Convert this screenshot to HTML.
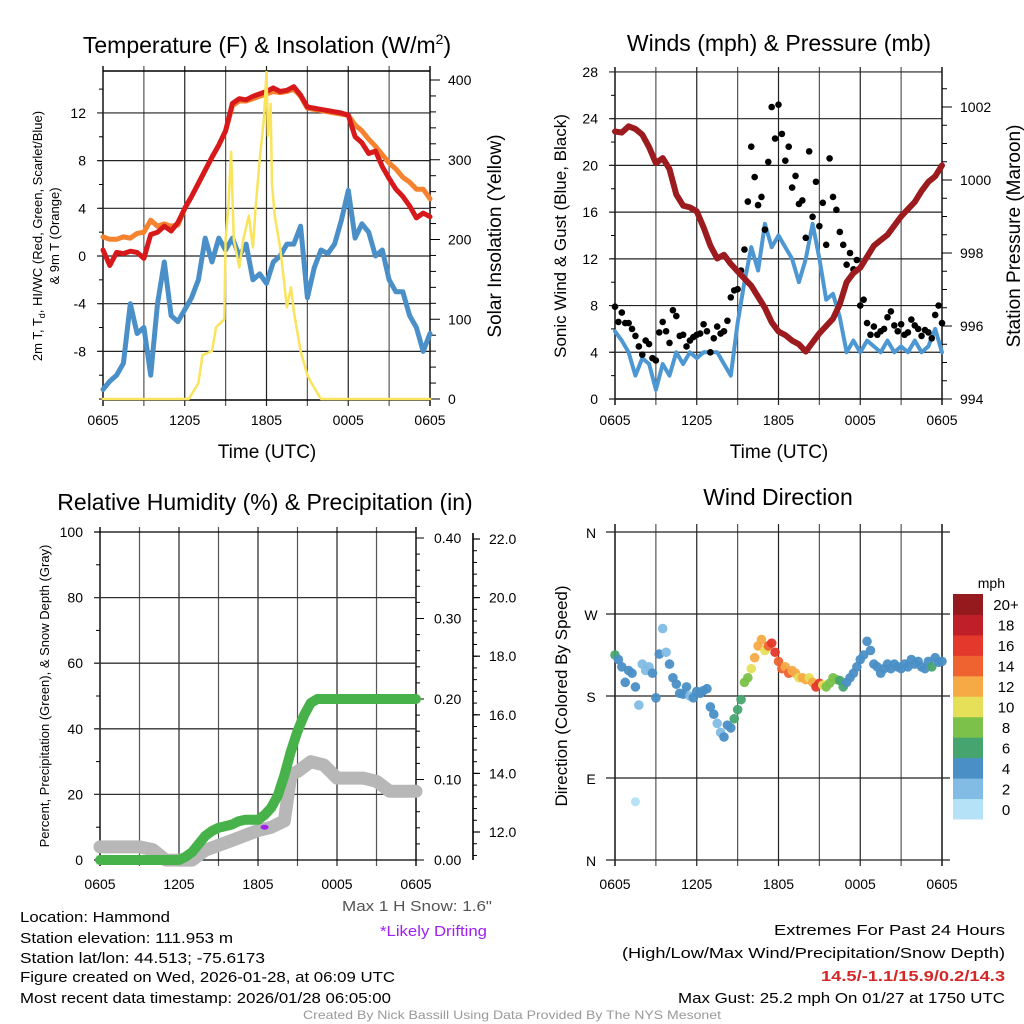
<!DOCTYPE html>
<html><head><meta charset="utf-8"><style>
html,body{margin:0;padding:0;background:#fff;}
svg{display:block;font-family:"Liberation Sans",sans-serif;}
</style></head><body>
<svg id="root" width="1024" height="1024" viewBox="0 0 1024 1024" xmlns="http://www.w3.org/2000/svg">
<g id="p1"></g>
<g id="p2"></g>
<g id="p3"></g>
<g id="p4"></g>
<g id="txt" font-size="15" fill="#000">
<text x="267" y="53" font-size="23" text-anchor="middle">Temperature (F) &amp; Insolation (W/m<tspan font-size="14" dy="-9">2</tspan><tspan dy="9">)</tspan></text>
<text x="779" y="51" font-size="23" text-anchor="middle">Winds (mph) &amp; Pressure (mb)</text>
<text x="265" y="510" font-size="23" text-anchor="middle">Relative Humidity (%) &amp; Precipitation (in)</text>
<text x="778" y="505" font-size="23" text-anchor="middle">Wind Direction</text>
<text x="267" y="458" font-size="19" text-anchor="middle">Time (UTC)</text>
<text x="779" y="458" font-size="19" text-anchor="middle">Time (UTC)</text>
<text transform="translate(42,236) rotate(-90)" font-size="13" text-anchor="middle">2m T, T<tspan font-size="9" dy="3">d</tspan><tspan dy="-3">, HI/WC (Red, Green, Scarlet/Blue)</tspan></text>
<text transform="translate(59,236) rotate(-90)" font-size="13" text-anchor="middle">&amp; 9m T (Orange)</text>
<text transform="translate(501,236) rotate(-90)" font-size="19" text-anchor="middle">Solar Insolation (Yellow)</text>
<text transform="translate(566,236) rotate(-90)" font-size="17" text-anchor="middle">Sonic Wind &amp; Gust (Blue, Black)</text>
<text transform="translate(1020,236) rotate(-90)" font-size="19" text-anchor="middle">Station Pressure (Maroon)</text>
<text transform="translate(49,696) rotate(-90)" font-size="13" text-anchor="middle">Percent, Precipitation (Green), &amp; Snow Depth (Gray)</text>
<text transform="translate(567,696) rotate(-90)" font-size="17" text-anchor="middle">Direction (Colored By Speed)</text>
<text x="1005" y="588" font-size="14" text-anchor="end">mph</text>
<text x="492" y="911" fill="#555" text-anchor="end" textLength="150" lengthAdjust="spacingAndGlyphs">Max 1 H Snow: 1.6"</text>
<text x="487" y="936" fill="#a020f0" text-anchor="end" textLength="107" lengthAdjust="spacingAndGlyphs">*Likely Drifting</text>
<text x="20" y="922" textLength="150" lengthAdjust="spacingAndGlyphs">Location: Hammond</text>
<text x="20" y="943" textLength="213" lengthAdjust="spacingAndGlyphs">Station elevation: 111.953 m</text>
<text x="20" y="963" textLength="245" lengthAdjust="spacingAndGlyphs">Station lat/lon: 44.513; -75.6173</text>
<text x="20" y="982" textLength="375" lengthAdjust="spacingAndGlyphs">Figure created on Wed, 2026-01-28, at 06:09 UTC</text>
<text x="20" y="1003" textLength="371" lengthAdjust="spacingAndGlyphs">Most recent data timestamp: 2026/01/28 06:05:00</text>
<text x="1005" y="935" text-anchor="end" textLength="231" lengthAdjust="spacingAndGlyphs">Extremes For Past 24 Hours</text>
<text x="1005" y="958" text-anchor="end" textLength="383" lengthAdjust="spacingAndGlyphs">(High/Low/Max Wind/Precipitation/Snow Depth)</text>
<text x="1005" y="981" text-anchor="end" font-weight="bold" fill="#d62728" textLength="184" lengthAdjust="spacingAndGlyphs">14.5/-1.1/15.9/0.2/14.3</text>
<text x="1005" y="1003" text-anchor="end" textLength="327" lengthAdjust="spacingAndGlyphs">Max Gust: 25.2 mph On 01/27 at 1750 UTC</text>
<text x="512" y="1019" font-size="12" fill="#999" text-anchor="middle" textLength="418" lengthAdjust="spacingAndGlyphs">Created By Nick Bassill Using Data Provided By The NYS Mesonet</text>
</g>
</svg>
<script>
// ---------- data ----------
const timeTicks = ["0605","1205","1805","0005","0605"];
const tempRed = [0.5,-0.8,0.3,0.2,0.4,0.3,-0.2,1.8,2.0,2.5,2.1,2.8,4.0,5.0,6.1,7.2,8.3,9.3,10.5,12.8,13.2,13.1,13.4,13.6,13.8,14.1,13.8,13.9,14.2,13.5,12.5,12.4,12.3,12.2,12.1,12.0,11.8,10.0,9.5,8.6,8.8,7.5,6.5,5.6,5.0,4.2,3.2,3.6,3.3];
const temp9m = [1.6,1.4,1.4,1.6,1.5,1.9,2.0,3.0,2.5,2.7,2.5,2.6,4.0,5.0,6.1,7.2,8.3,9.3,10.5,12.6,13.0,13.0,13.2,13.4,13.6,13.8,13.7,13.8,14.0,13.4,12.4,12.3,12.2,12.1,12.0,11.9,11.8,11.0,10.5,9.8,9.2,8.5,7.8,7.3,6.6,6.2,5.6,5.6,4.8];
const dewpoint = [-11.2,-10.5,-10.0,-9.0,-4.0,-6.5,-6.0,-10.0,-4.0,-0.5,-5.0,-5.5,-4.5,-3.5,-2.0,1.5,-0.5,1.5,0.5,1.5,0.0,1.0,-2.0,-1.5,-2.3,-0.5,0.0,1.0,1.0,2.5,-3.5,-1.0,0.5,0.2,1.0,3.0,5.5,1.5,2.7,2.0,0.0,0.5,-2.0,-3.0,-3.0,-5.0,-6.0,-8.0,-6.5];
const tempTicks = [-8,-4,0,4,8,12];
const solarHours = [0,6.3,7,7.3,8,8.3,8.9,9,9.2,9.4,9.6,10,10.3,10.7,11,11.2,11.5,11.8,12,12.1,12.3,12.4,12.6,13,13.2,13.5,13.8,14,14.5,15,15.3,16,24];
const solarValues = [0,0,20,55,60,90,100,200,240,310,200,165,200,230,190,240,300,350,410,330,370,270,230,190,160,115,140,110,60,30,20,0,0];
const solarTicks = [0,100,200,300,400];
const windSpeed = [5.8,5.0,4.0,2.0,3.5,3.0,0.8,3.0,2.0,4.0,3.0,4.0,3.5,4.0,4.0,4.0,3.0,2.0,6.5,10,13,11,15,13,14,13,12,10,12,15,12,8.5,9,7,4,5,4,5,4.5,4,5,4,4.5,4,5,4,4.5,6,4];
const pressure = [1001.33,1001.3,1001.47,1001.4,1001.24,1000.9,1000.46,1000.6,1000.3,999.6,999.3,999.25,999.14,998.7,998.2,997.85,997.95,997.7,997.5,997.3,997.1,996.8,996.5,996.1,995.85,995.75,995.6,995.5,995.3,995.55,995.8,996.0,996.2,996.6,997.2,997.45,997.6,997.9,998.2,998.35,998.5,998.75,999.0,999.2,999.4,999.7,999.95,1000.1,1000.4];
const gusts = [7.9,6.6,7.4,6.5,6.5,6.0,5.4,4.5,3.8,5.0,4.7,3.5,3.3,5.7,6.6,5.8,4.8,7.6,7.1,5.4,5.5,4.5,5.0,5.3,5.5,5.6,6.4,5.8,4.0,5.2,6.2,5.6,5.8,6.7,8.7,9.3,9.4,11.0,12.8,16.9,21.6,19.0,16.6,17.3,14.5,20.3,25.0,22.3,25.2,22.7,20.4,21.6,18.1,19.1,16.7,17.0,13.8,21.2,15.6,18.6,14.8,16.8,13.2,20.6,17.3,16.2,14.3,13.2,11.5,12.5,11.1,11.9,8.0,8.5,6.5,5.5,6.2,5.5,5.8,6.0,7.0,7.5,6.3,5.8,6.4,5.5,5.7,6.8,6.3,6.0,5.4,5.9,5.7,5.2,7.2,8.0,6.5];
const windTicks = [0,4,8,12,16,20,24,28];
const pressTicks = [994,996,998,1000,1002];
const precipHours = [0,6,6.5,7,7.5,8,8.5,9,10,10.5,11,11.5,12,12.5,13,13.5,14,14.5,15,15.5,16,16.5,17,24];
const precipValues = [0,0,0.004,0.01,0.02,0.03,0.036,0.04,0.044,0.048,0.05,0.05,0.05,0.056,0.065,0.08,0.105,0.135,0.16,0.18,0.195,0.2,0.2,0.2];
const snowHours = [0,3,4,5,7,8,10,12,13,14,14.5,15,16,17,18,20,21,22,24];
const snowDepth = [11.49,11.49,11.4,11.04,11.04,11.38,11.71,12.05,12.16,12.38,13.95,14.06,14.4,14.29,13.84,13.84,13.73,13.39,13.39];
const pctTicks = [0,20,40,60,80,100];
const precipTicks = ["0.00","0.10","0.20","0.30","0.40"];
const snowTicks = ["12.0","14.0","16.0","18.0","20.0","22.0"];
const windDir = [225,220,212,195,208,205,190,170,215,208,212,205,178,226,254,228,215,200,193,183,182,190,180,178,185,183,186,188,168,160,150,140,135,148,145,155,165,176,195,200,210,222,235,242,230,235,238,228,218,210,212,205,208,205,200,200,198,200,195,190,194,192,190,194,200,198,197,190,195,200,205,212,220,225,240,230,215,212,205,210,215,210,215,212,210,215,212,220,215,218,212,210,218,212,222,217,218];
const dirSpeed = [6,4.5,4.5,4.5,4.5,4.5,4.5,3,3,3,3,4.5,4.5,4.5,3,3,4.5,4.5,4.5,4.5,4.5,4.5,3,4.5,4.5,4.5,4.5,4.5,4.5,4.5,3,3,4.5,4.5,4.5,6.5,7,7,8.5,9,11,12.5,13,12.5,10.5,15,17,16.5,15,14,13,14.5,12.5,13,11,12.5,12.5,11,13,16,17,10.5,8.5,9,8.5,8.5,7,6.5,5,4.5,5,4.5,4.5,4.5,4.5,4.5,4.5,4.5,4.5,4.5,4.5,4.5,4.5,4.5,4.5,4.5,4.5,4.5,4.5,4.5,4.5,4.5,4.5,6.5,4.5,4.5,4.5];
const extraDirHours = [1.5];
const extraDir = [64];
const extraDirSpeed = [1];
const dirLabels = ["N","E","S","W","N"];
const cbarLabels = ["0","2","4","6","8","10","12","14","16","18","20+"];
const cbarColors = ["#b5e2f6","#82bce4","#4a8fc6","#46a56e","#7bc14a","#e6e059","#f6aa45","#ee6330","#e3382b","#bf1f29","#941a1d"];

// ---------- helpers ----------
const NS = "http://www.w3.org/2000/svg";
function mk(tag, attrs, parent, name, inter) {
  const el = document.createElementNS(NS, tag);
  for (const k in attrs) el.setAttribute(k, attrs[k]);
  
  
  parent.appendChild(el);
  return el;
}
function line(p, x1, y1, x2, y2, stroke, w, name) {
  return mk('line', {x1:x1, y1:y1, x2:x2, y2:y2, stroke:stroke, 'stroke-width':w}, p, name, false);
}
function txt(p, x, y, s, anchor, size, name) {
  const t = mk('text', {x:x, y:y, 'text-anchor':anchor, 'font-size':size}, p, name, false);
  t.textContent = s;
  return t;
}
function path(p, xs, ys, stroke, w, name) {
  let d = '';
  for (let i = 0; i < xs.length; i++) d += (i ? 'L' : 'M') + xs[i].toFixed(1) + ',' + ys[i].toFixed(1);
  return mk('path', {d:d, fill:'none', stroke:stroke, 'stroke-width':w, 'stroke-linejoin':'round', 'stroke-linecap':'round'}, p, name, false);
}
const halfHours = tempRed.map((_, i) => i * 0.5);
const quarterHours = gusts.map((_, i) => i * 0.25);

function timeAxis(p, x0, x1, yTop, yBot, labelY) {
  for (let i = 0; i <= 8; i++) {
    const x = x0 + (x1 - x0) * i / 8;
    line(p, x, yTop - 5, x, yBot + 6, i % 2 ? '#555' : '#222', i === 0 || i === 8 ? 1.6 : 1.2, 'time-gridline');
  }
  timeTicks.forEach((s, i) => txt(p, x0 + (x1 - x0) * i / 4, labelY, s, 'middle', 14, 'time-tick-label'));
}

// ---------- panel 1 ----------
(function () {
  const p = document.getElementById('p1');
  const x0 = 103, x1 = 430, yTop = 71, yBot = 400;
  const X = t => x0 + t * (x1 - x0) / 24;
  const YT = v => 256 - v * 11.92;
  const YS = w => 399 - w * 0.7975;
  timeAxis(p, x0, x1, yTop, yBot, 425);
  line(p, x0, yTop, x1, yTop, '#000', 1.4, 'frame-top');
  line(p, x0, yBot, x1, yBot, '#000', 1.4, 'frame-bottom');
  for (let v = -12; v <= 14; v += 2) line(p, x0 - 4, YT(v), x0, YT(v), '#000', 1, 'temp-minor-tick');
  tempTicks.forEach(v => {
    line(p, x0 - 6, YT(v), x1, YT(v), '#222', 1.2, 'temp-gridline');
    txt(p, 86, YT(v) + 5, String(v), 'end', 14, 'temp-tick-label');
  });
  for (let w = 0; w <= 400; w += 20) line(p, x1, YS(w), x1 + (w % 100 ? 6 : 10), YS(w), '#000', 1, 'solar-tick');
  solarTicks.forEach(w => txt(p, 448, YS(w) + 5, String(w), 'start', 14, 'solar-tick-label'));
  path(p, halfHours.map(X), dewpoint.map(YT), '#4a8fc8', 5, 'dewpoint-line');
  path(p, halfHours.map(X), temp9m.map(YT), '#f5822f', 5, 'temp-9m-line');
  path(p, halfHours.map(X), tempRed.map(YT), '#d7191c', 5, 'temp-2m-line');
  path(p, solarHours.map(X), solarValues.map(YS), '#f9e45b', 2.5, 'solar-line');
})();

// ---------- panel 2 ----------
(function () {
  const p = document.getElementById('p2');
  const x0 = 615, x1 = 942, yTop = 72, yBot = 399;
  const X = t => x0 + t * (x1 - x0) / 24;
  const YW = v => 399 - v * 11.68;
  const YP = v => 399 - (v - 994) * 36.5;
  timeAxis(p, x0, x1, yTop, yBot, 425);
  line(p, x0, yBot, x1, yBot, '#000', 1.4, 'frame-bottom');
  for (let v = 0; v <= 28; v += 2) line(p, x0 - 4, YW(v), x0, YW(v), '#000', 1, 'wind-minor-tick');
  windTicks.forEach(v => {
    line(p, x0 - 6, YW(v), x1, YW(v), '#222', 1.2, 'wind-gridline');
    txt(p, 598, YW(v) + 5, String(v), 'end', 14, 'wind-tick-label');
  });
  for (let v = 994; v <= 1002.9; v += 0.5) line(p, x1, YP(v), x1 + (Math.abs(v % 2) < 0.01 ? 10 : 5), YP(v), '#000', 1, 'pressure-tick');
  pressTicks.forEach(v => txt(p, 960, YP(v) + 5, String(v), 'start', 14, 'pressure-tick-label'));
  path(p, halfHours.map(X), windSpeed.map(YW), '#4d97d3', 4, 'wind-speed-line');
  gusts.forEach((g, i) => mk('circle', {cx:X(quarterHours[i]), cy:YW(g), r:3.3, fill:'#000'}, p, 'gust-point', false));
  path(p, halfHours.map(X), pressure.map(YP), '#9b1b1e', 6, 'pressure-line');
})();

// ---------- panel 3 ----------
(function () {
  const p = document.getElementById('p3');
  const x0 = 100, x1 = 416, yTop = 532, yBot = 860;
  const X = t => x0 + t * (x1 - x0) / 24;
  const YPct = v => 860 - v * 3.28;
  const YPr = v => 860 - v * 805;
  const YSn = v => 832 - (v - 12) * 29.3;
  timeAxis(p, x0, x1, yTop, yBot, 889);
  for (let v = 0; v <= 100; v += 10) line(p, x0 - 4, YPct(v), x0, YPct(v), '#000', 1, 'pct-minor-tick');
  pctTicks.forEach(v => {
    line(p, x0 - 6, YPct(v), x1, YPct(v), (v === 0 || v === 100) ? '#000' : '#333', 1.3, 'pct-gridline');
    txt(p, 83, YPct(v) + 5, String(v), 'end', 14, 'pct-tick-label');
  });
  for (let v = 0; v <= 0.401; v += 0.02) line(p, x1, YPr(v), x1 + (Math.round(v * 100) % 10 ? 4 : 8), YPr(v), '#000', 1, 'precip-tick');
  precipTicks.forEach(s => txt(p, 434, YPr(parseFloat(s)) + 5, s, 'start', 14, 'precip-tick-label'));
  line(p, 473, 533, 473, 860, '#000', 1.6, 'snow-axis-line');
  for (let v = 11.2; v <= 22.01; v += 0.4) line(p, 473, YSn(v), 477, YSn(v), '#000', 1, 'snow-tick');
  snowTicks.forEach(s => {
    line(p, 473, YSn(parseFloat(s)), 480, YSn(parseFloat(s)), '#000', 1.2, 'snow-major-tick');
    txt(p, 489, YSn(parseFloat(s)) + 5, s, 'start', 14, 'snow-tick-label');
  });
  path(p, snowHours.map(X), snowDepth.map(YSn), '#b7b7b7', 13, 'snow-depth-line');
  path(p, precipHours.map(X), precipValues.map(YPr), '#47b14a', 10, 'precip-line');
  mk('ellipse', {cx:X(12.5), cy:YPct(10), rx:4, ry:2.5, fill:'#a020f0'}, p, 'drifting-marker', false);
})();

// ---------- panel 4 ----------
(function () {
  const p = document.getElementById('p4');
  const x0 = 615, x1 = 942, yTop = 532, yBot = 860;
  const X = t => x0 + t * (x1 - x0) / 24;
  const YD = d => 860 - d * 328 / 360;
  const col = s => cbarColors[Math.min(10, Math.floor(s / 2))];
  timeAxis(p, x0, x1, yTop - 3, yBot, 889);
  dirLabels.forEach((s, i) => {
    line(p, 606, YD(i * 90), 950, YD(i * 90), '#222', 1.2, 'direction-gridline');
    txt(p, 591, YD(i * 90) + 6, s, 'middle', 14, 'direction-tick-label');
  });
  windDir.forEach((d, i) => mk('circle', {cx:X(quarterHours[i]), cy:YD(d), r:4.8, fill:col(dirSpeed[i]), 'fill-opacity':0.95}, p, 'direction-point', false));
  extraDir.forEach((d, i) => mk('circle', {cx:X(extraDirHours[i]), cy:YD(d), r:4.5, fill:col(extraDirSpeed[i])}, p, 'direction-point', false));
  const cb = mk('g', {}, p, 'speed-colorbar', false);
  const h = 225 / 11;
  cbarColors.forEach((c, i) => {
    const y = 594 + (10 - i) * h;
    mk('rect', {x:953, y:y, width:30, height:h + 0.5, fill:c}, cb, 'colorbar-box', false);
    txt(cb, 1006, y + h / 2 + 6, cbarLabels[i], 'middle', 15, 'colorbar-label');
  });
})();
</script>
</body></html>
